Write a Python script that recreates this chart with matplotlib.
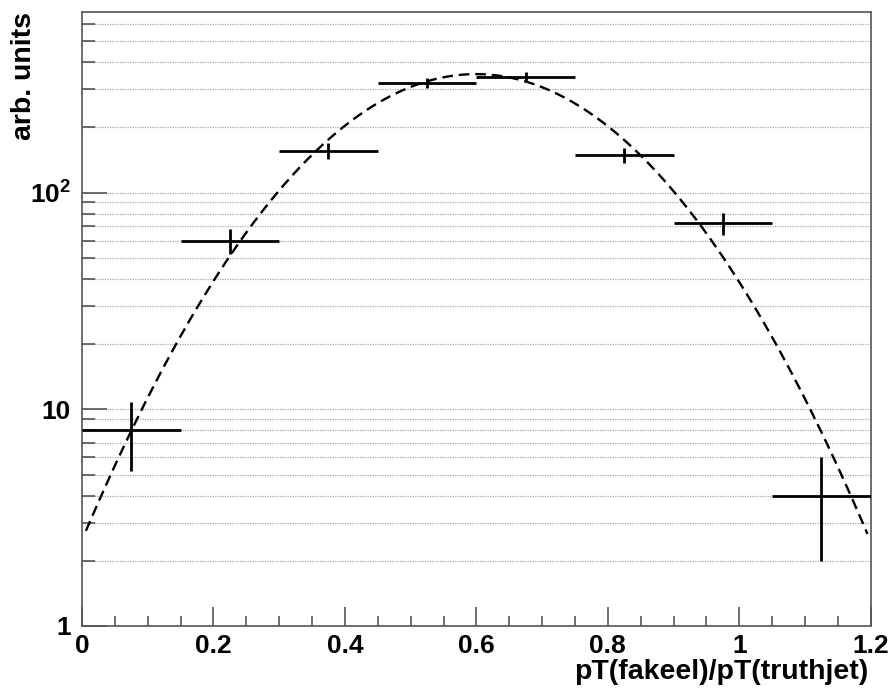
import numpy as np
import matplotlib
matplotlib.use('Agg')
import matplotlib.pyplot as plt
from matplotlib.ticker import FixedLocator, FixedFormatter, NullFormatter

plt.rcParams['font.family'] = 'Liberation Sans'
plt.rcParams['font.weight'] = 'bold'
plt.rcParams['mathtext.fontset'] = 'custom'
plt.rcParams['mathtext.bf'] = 'Liberation Sans:bold'
plt.rcParams['mathtext.rm'] = 'Liberation Sans:bold'

# histogram bins (pT ratio), contents with Poisson errors
bin_centers = [0.075, 0.225, 0.375, 0.525, 0.675, 0.825, 0.975, 1.125]
bin_half_width = 0.075
counts = [8, 60, 156, 320, 343, 149, 72, 4]

# gaussian fit parameters
fit_const = 352.0
fit_mean = 0.5995
fit_sigma = 0.1905
fit_range = (0.006, 1.195)

y_ticks = [1, 10, 100]
y_tick_labels = ['1', '10', r'$\mathbf{10^{2}}$']

counts = np.array(counts, dtype=float)
errs = np.sqrt(counts)

fig = plt.figure(figsize=(8.94, 6.93), dpi=100)
ax = fig.add_axes([0.0917, 0.0967, 0.974 - 0.0917, 0.9827 - 0.0967])

ax.set_yscale('log')
ax.set_xlim(0, 1.2)
ax.set_ylim(1, 681)

# horizontal dotted grid at every decade sub-division
grid_vals = [m * 10**e for e in range(0, 3) for m in range(1, 10)]
grid_vals = [g for g in grid_vals if 1 < g < 681]
for g in grid_vals:
    ax.axhline(g, color='#a8a8a8', lw=0.9, ls=(0, (1, 1)), zorder=0)

xf = np.linspace(fit_range[0], fit_range[1], 400)
yf = fit_const * np.exp(-0.5 * ((xf - fit_mean) / fit_sigma) ** 2)
ax.plot(xf, yf, color='black', lw=1.7, dashes=(4.5, 2.5), zorder=2)

ax.errorbar(bin_centers, counts, xerr=bin_half_width, yerr=errs, fmt='none',
            ecolor='black', elinewidth=2, capsize=0, zorder=3)

ax.yaxis.set_major_locator(FixedLocator(y_ticks))
ax.yaxis.set_major_formatter(FixedFormatter(y_tick_labels))
ax.yaxis.set_minor_locator(FixedLocator(grid_vals))
ax.yaxis.set_minor_formatter(NullFormatter())
ax.xaxis.set_major_locator(FixedLocator([0, 0.2, 0.4, 0.6, 0.8, 1.0, 1.2]))
ax.xaxis.set_major_formatter(FixedFormatter(['0', '0.2', '0.4', '0.6', '0.8', '1', '1.2']))
ax.xaxis.set_minor_locator(FixedLocator(np.arange(0, 1.201, 0.05)))

ax.tick_params(axis='both', which='both', direction='in', colors='#555555',
               labelcolor='black', labelsize=19, width=1.2)
ax.tick_params(axis='y', which='major', length=18, pad=8)
ax.tick_params(axis='y', which='minor', length=9)
ax.tick_params(axis='x', which='major', length=13.5, pad=6)
ax.tick_params(axis='x', which='minor', length=7)
ax.tick_params(top=False, right=False, which='both')

for s in ax.spines.values():
    s.set_color('#555555')
    s.set_linewidth(1.2)

ax.set_xlabel('pT(fakeel)/pT(truthjet)', fontsize=20.5, fontweight='bold', ha='right')
ax.xaxis.set_label_coords(0.9975, -0.0863, transform=ax.transAxes)
ax.xaxis.label.set_va('baseline')
ax.set_ylabel('arb. units', fontsize=20.5, fontweight='bold', ha='right')
ax.yaxis.set_label_coords(-0.073, 1.0)
ax.yaxis.label.set_va('center')

fig.savefig('out.png', dpi=100, facecolor='white')
